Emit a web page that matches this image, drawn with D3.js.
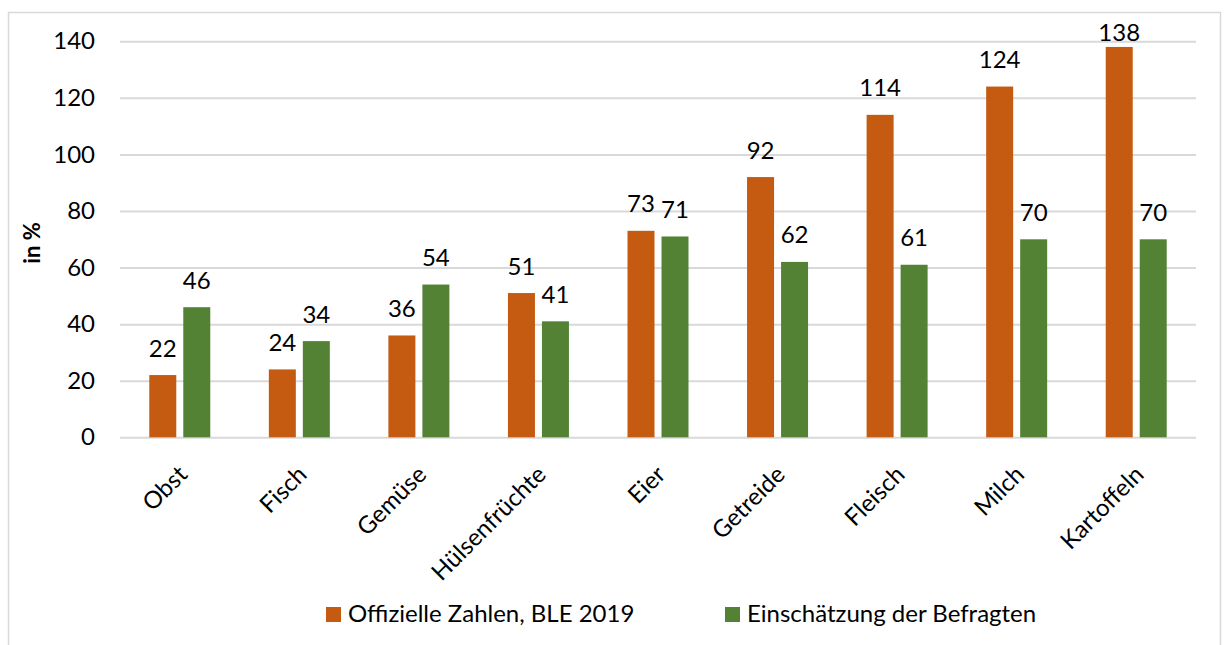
<!DOCTYPE html>
<html><head><meta charset="utf-8">
<script src="https://cdn.jsdelivr.net/npm/d3@7"></script>
<style>body{margin:0;background:#fff}svg{display:block}text{font-family:Lato,"Open Sans",sans-serif;fill:#000}</style>
</head><body>
<svg id="c" width="1224" height="645"></svg>
<script>
const categories = ["Obst","Fisch","Gemüse","Hülsenfrüchte","Eier","Getreide","Fleisch","Milch","Kartoffeln"];
const official = [22,24,36,51,73,92,114,124,138];
const estimate = [46,34,54,41,71,62,61,70,70];
const seriesNames = ["Offizielle Zahlen, BLE 2019","Einschätzung der Befragten"];
const seriesColors = ["#C55A11","#548235"];
const yTicks = [0,20,40,60,80,100,120,140];

const svg = d3.select("#c");
// chart frame
svg.append("rect").attr("x",8.5).attr("y",12.5).attr("width",1212).attr("height",700)
  .attr("fill","none").attr("stroke","#d9d9d9").attr("stroke-width",1.5);

const x0 = d3.scaleBand().domain(categories).range([120,1196]).paddingInner(0).paddingOuter(0);
const y = d3.scaleLinear().domain([0,140]).range([437.3,41.3]);
const barW = 27, gap = 7;

// gridlines
const gAxis = svg.append("g").attr("transform","translate(120,0)")
  .call(d3.axisLeft(y).tickValues(yTicks).tickSize(-(1196-120)).tickPadding(25));
gAxis.select(".domain").remove();
gAxis.selectAll(".tick line").attr("stroke","#d9d9d9").attr("stroke-width",2);
gAxis.selectAll(".tick text").attr("font-size",24).attr("font-family","Lato,sans-serif").attr("fill","#000");

const series = [official, estimate];
series.forEach((vals, si) => {
  const off = si === 0 ? -(gap/2 + barW) : gap/2;
  const g = svg.append("g");
  g.selectAll("rect").data(vals).join("rect")
    .attr("x",(d,i)=> x0(categories[i]) + x0.bandwidth()/2 + off)
    .attr("y",d=>y(d)).attr("width",barW).attr("height",d=>y(0)-y(d))
    .attr("fill",seriesColors[si]);
  g.selectAll("text").data(vals).join("text")
    .attr("x",(d,i)=> x0(categories[i]) + x0.bandwidth()/2 + off + barW/2)
    .attr("y",d=>Math.max(41, y(d)-18.5)).attr("text-anchor","middle").attr("font-size",24)
    .text(d=>d);
});

// x axis labels
svg.append("g").selectAll("text").data(categories).join("text")
  .attr("transform",d=>`translate(${x0(d)+x0.bandwidth()/2+9},476) rotate(-45)`)
  .attr("text-anchor","end").attr("font-size",24).text(d=>d);

// y title
svg.append("text").attr("transform","translate(40,243) rotate(-90)")
  .attr("text-anchor","middle").attr("font-size",22).attr("font-weight","bold").text("in %");

// legend
const legX = [326,725];
seriesNames.forEach((n,i)=>{
  svg.append("rect").attr("x",legX[i]).attr("y",607).attr("width",15).attr("height",15).attr("fill",seriesColors[i]);
  svg.append("text").attr("x",legX[i]+22).attr("y",622).attr("font-size",24).text(n);
});
</script>
</body></html>
